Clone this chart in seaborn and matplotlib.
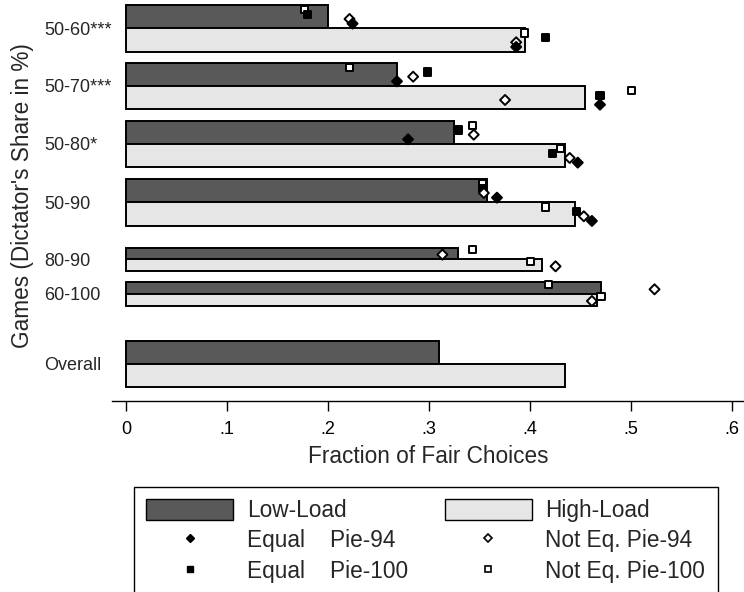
import numpy as np
import pandas as pd
import matplotlib.pyplot as plt
import seaborn as sns
from matplotlib.patches import Patch
from matplotlib.lines import Line2D

# ===================== DATA =====================
games = ["50-60***", "50-70***", "50-80*", "50-90", "80-90", "60-100", "Overall"]
low_load = [0.200, 0.268, 0.324, 0.357, 0.328, 0.470, 0.310]
high_load = [0.395, 0.454, 0.434, 0.444, 0.412, 0.466, 0.434]

nan = np.nan
eq94_low = [0.224, 0.268, 0.279, 0.367, nan, nan, nan]
eq94_high = [0.386, 0.469, 0.447, 0.461, nan, nan, nan]
eq100_low = [0.179, 0.298, 0.329, 0.353, nan, nan, nan]
eq100_high = [0.415, 0.469, 0.422, 0.446, nan, nan, nan]
neq94_low = [0.221, 0.284, 0.344, 0.354, 0.313, 0.523, nan]
neq94_high = [0.386, 0.375, 0.439, 0.453, 0.425, 0.461, nan]
neq100_low = [0.176, 0.221, 0.343, 0.353, 0.343, 0.418, nan]
neq100_high = [0.394, 0.500, 0.430, 0.415, 0.400, 0.470, nan]

x_ticks = [0, 0.1, 0.2, 0.3, 0.4, 0.5, 0.6]
x_tick_labels = ["0", ".1", ".2", ".3", ".4", ".5", ".6"]

# ===================== LAYOUT =====================
# row centres / bar heights in pixel-like units (y axis inverted)
row_center = [28.3, 86.0, 144.0, 202.3, 259.3, 294.0, 364.0]
bar_h = [23.3, 23.3, 23.3, 23.3, 11.7, 11.7, 23.3]

DARK = "#595959"
LIGHT = "#e6e6e6"

# ===================== STYLE =====================
sns.set_style("ticks")
plt.rcParams["font.family"] = ["Liberation Sans", "DejaVu Sans"]

fig = plt.figure(figsize=(7.44, 5.92), dpi=100)
ax = fig.add_axes([111.7 / 744, 1 - 401.3 / 592, 1 - 111.7 / 744, 401.3 / 592])

# ===================== BARS =====================
centers = np.array(row_center)
heights = np.array(bar_h)
ax.barh(centers - heights / 2, low_load, height=heights, color=DARK,
        edgecolor="black", linewidth=1.4, zorder=2)
ax.barh(centers + heights / 2, high_load, height=heights, color=LIGHT,
        edgecolor="black", linewidth=1.4, zorder=2)

# ===================== MARKERS =====================
series = [
    ("Not Eq.", "Pie-100", neq100_low, neq100_high, 0.2),
    ("Equal", "Pie-100", eq100_low, eq100_high, 0.4),
    ("Not Eq.", "Pie-94", neq94_low, neq94_high, 0.6),
    ("Equal", "Pie-94", eq94_low, eq94_high, 0.8),
]
rows = []
for treat, pie, lo, hi, frac in series:
    for i in range(len(games)):
        top_low = row_center[i] - bar_h[i]
        top_high = row_center[i]
        rows.append((treat, pie, lo[i], top_low + frac * bar_h[i]))
        rows.append((treat, pie, hi[i], top_high + frac * bar_h[i]))
pts = pd.DataFrame(rows, columns=["treat", "pie", "fair", "ypos"]).dropna()

sns.scatterplot(data=pts, x="fair", y="ypos", hue="treat", style="pie",
                palette={"Equal": "black", "Not Eq.": "white"},
                markers={"Pie-94": "D", "Pie-100": "s"},
                edgecolor="black", linewidth=1.4, s=26,
                legend=False, zorder=3, ax=ax)

# ===================== AXES =====================
ax.set_xlim((0 - 14.6) / 1010, (744 - 126.3) / 1010)
ax.set_ylim(401.3, 0)
ax.set_xticks(x_ticks, x_tick_labels)
ax.set_yticks(row_center, games)
ax.tick_params(axis="x", length=7, width=1, pad=7, labelsize=13, colors="black")
ax.tick_params(axis="y", length=0, pad=48.7, labelsize=13)
for lbl in ax.get_yticklabels():
    lbl.set_horizontalalignment("left")

for side in ["left", "top", "right"]:
    ax.spines[side].set_visible(False)
ax.spines["bottom"].set_linewidth(1)
ax.spines["bottom"].set_color("black")

ax.set_xlabel("Fraction of Fair Choices", fontsize=16.3, labelpad=5)
ax.set_ylabel("")
fig.text(23 / 744, 1 - 195.5 / 592, "Games (Dictator's Share in %)",
         rotation=90, ha="center", va="center", fontsize=16.3)

# ===================== LEGEND =====================
handles = [
    Patch(facecolor=DARK, edgecolor="black", linewidth=1),
    Line2D([], [], marker="D", linestyle="none", color="black", markersize=4.5),
    Line2D([], [], marker="s", linestyle="none", color="black", markersize=4),
    Patch(facecolor=LIGHT, edgecolor="black", linewidth=1),
    Line2D([], [], marker="D", linestyle="none", color="black",
           markerfacecolor="white", markeredgewidth=1.2, markersize=4.5),
    Line2D([], [], marker="s", linestyle="none", color="black",
           markerfacecolor="white", markeredgewidth=1.2, markersize=4),
]
labels = ["Low-Load", "Equal    Pie-94", "Equal    Pie-100",
          "High-Load", "Not Eq. Pie-94", "Not Eq. Pie-100"]
leg = fig.legend(handles, labels, ncol=2, loc="upper left",
                 bbox_to_anchor=(134 / 744, 1 - 486.7 / 592),
                 bbox_transform=fig.transFigure, borderaxespad=0,
                 fontsize=16.3, frameon=True, fancybox=False,
                 edgecolor="black", framealpha=1,
                 handlelength=3.84, handleheight=1.02, handletextpad=0.59,
                 columnspacing=1.64, borderpad=0.55, labelspacing=0.32)
leg.get_frame().set_linewidth(1)

plt.savefig("out.png", dpi=100)
plt.close()
